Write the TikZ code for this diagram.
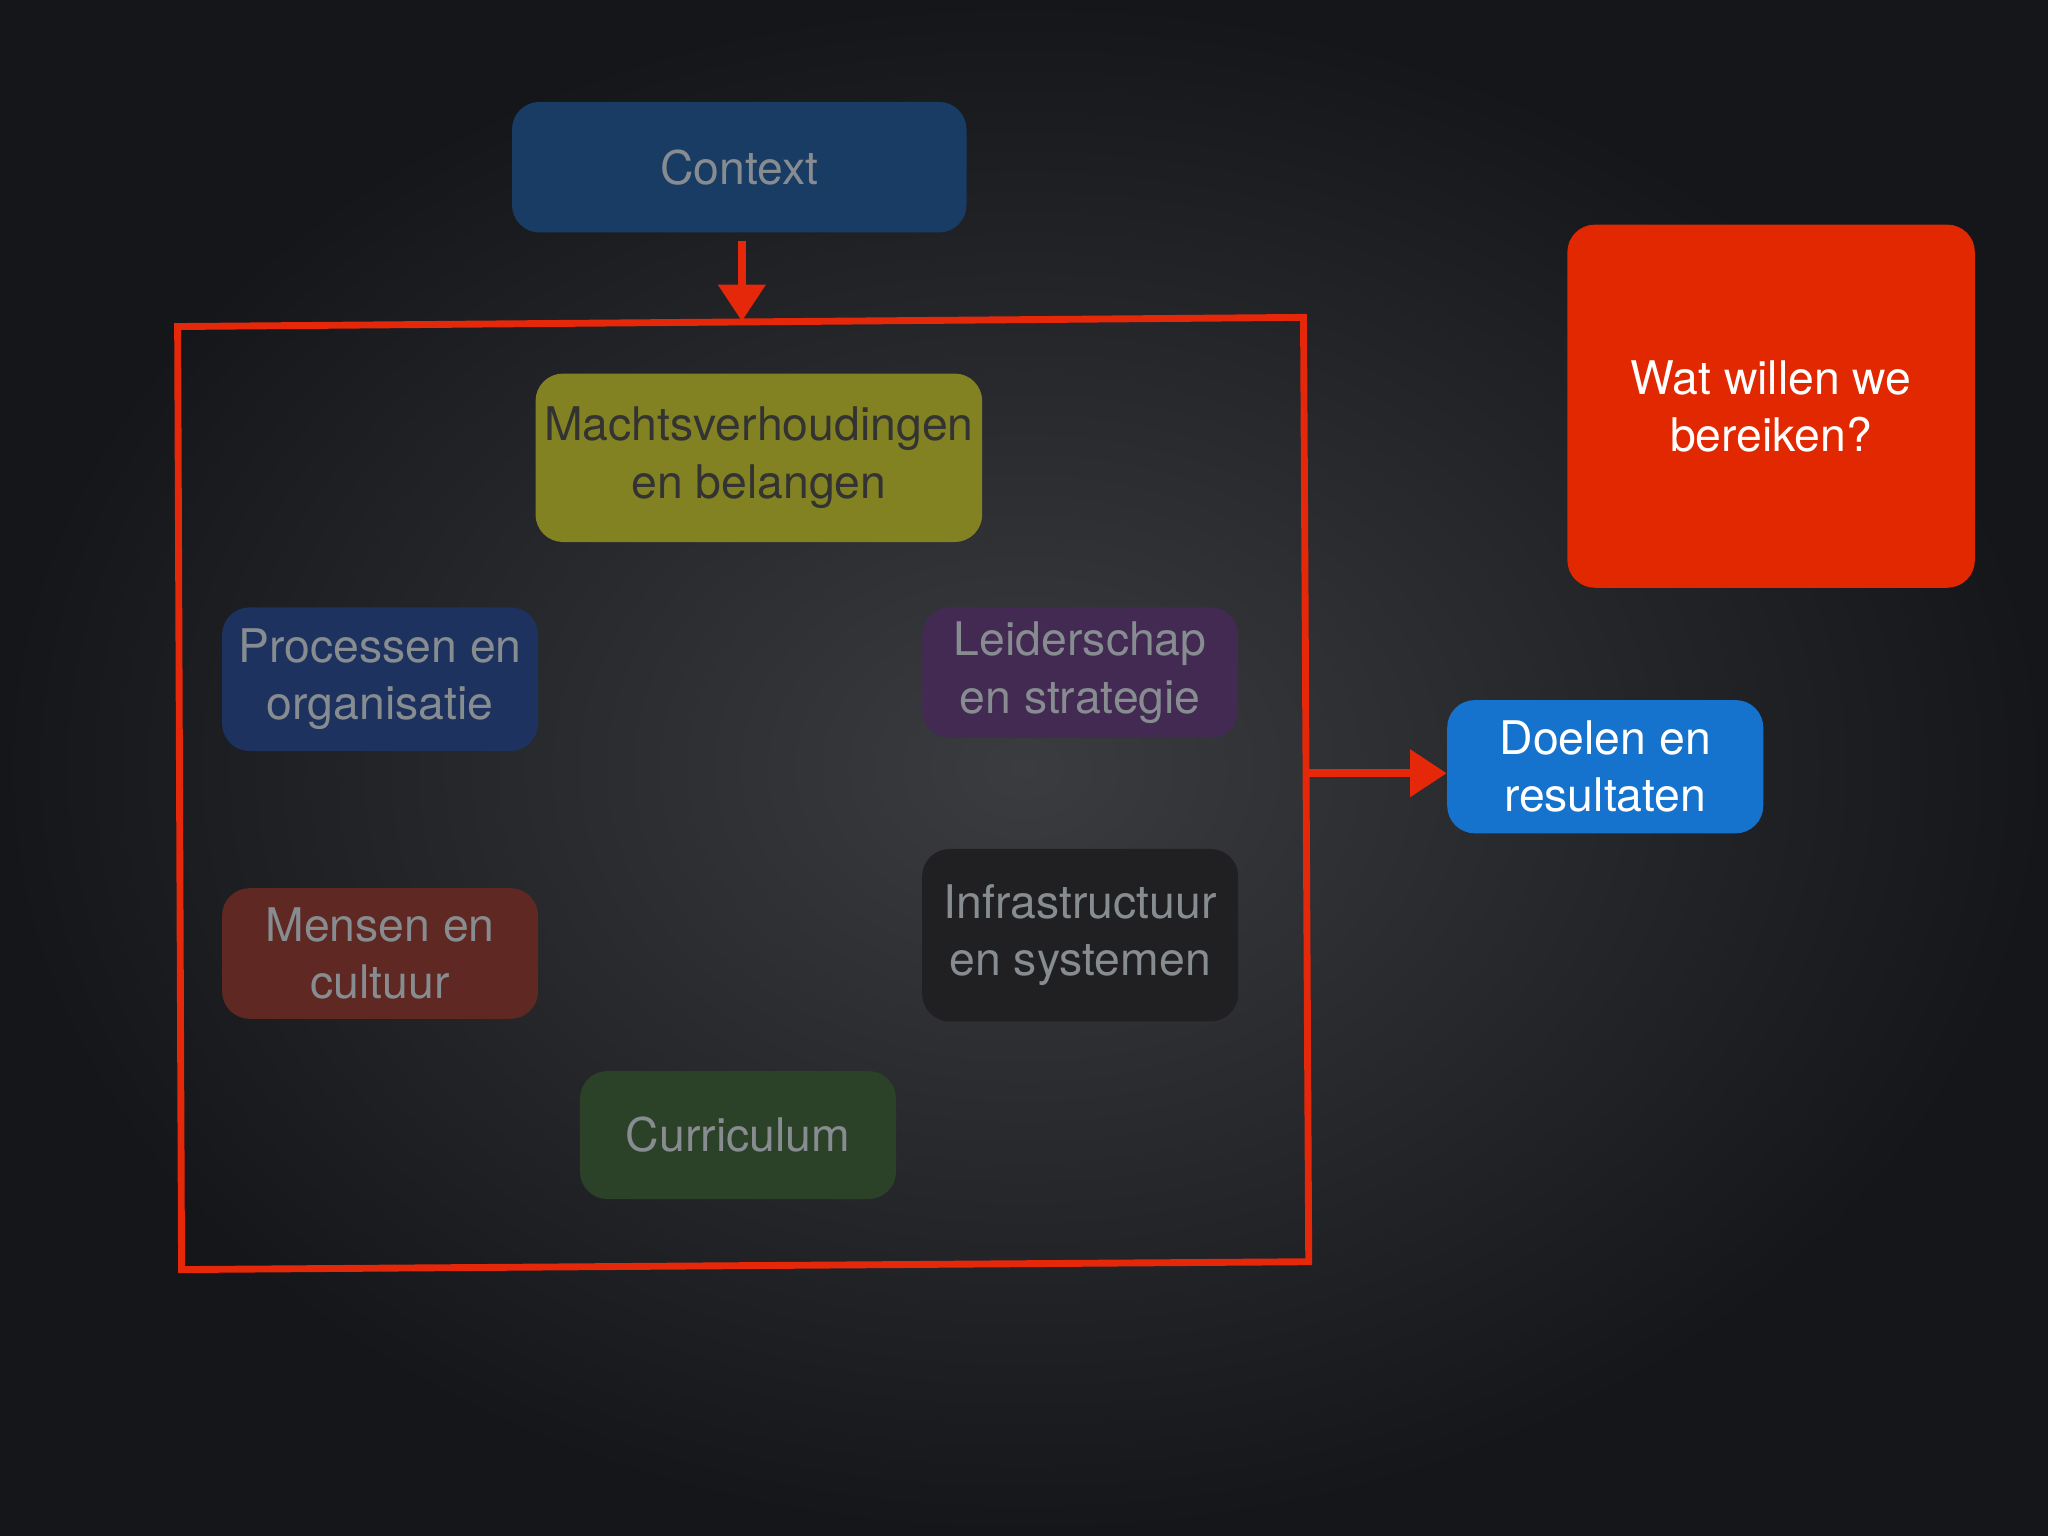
\documentclass[tikz,border=0pt]{standalone}
\usepackage{fontspec}
\setmainfont{TeX Gyre Heros}
\usetikzlibrary{arrows.meta}
\begin{document}
\begin{tikzpicture}[x=0.02cm,y=-0.02cm,
  box/.style={rounded corners=12pt,align=center,inner sep=0pt,font=\fontsize{20.2}{25}\selectfont},
  redarrow/.style={draw={rgb,255:red,230;green,40;blue,10},line width=3.5pt,-{Triangle[length=16pt,width=20pt]}}]
\definecolor{bgc}{RGB}{58,60,64}
\definecolor{bgd}{RGB}{20,22,25}
\useasboundingbox (0,0) rectangle (1568,1176);
\shade[inner color=bgc,outer color=bgd] (0,0) rectangle (1568,1176);
\newcommand{\bx}[6]{\node[box,fill=#5,text=#6,minimum width={(#3-#1)*0.02cm},minimum height={(#4-#2)*0.02cm}] at ({(#1+#3)/2},{(#2+#4)/2})}
\definecolor{ctx}{RGB}{24,60,100}
\definecolor{mac}{RGB}{130,130,34}
\definecolor{pro}{RGB}{30,50,95}
\definecolor{lei}{RGB}{66,42,82}
\definecolor{men}{RGB}{95,40,34}
\definecolor{inf}{RGB}{32,32,34}
\definecolor{cur}{RGB}{44,66,40}
\definecolor{wat}{RGB}{225,40,0}
\definecolor{doe}{RGB}{22,115,205}
\definecolor{dimtxt}{RGB}{135,140,145}
\definecolor{rl}{RGB}{230,40,10}
\bx{392}{78}{740}{178}{ctx}{dimtxt} (context) {Context};
\bx{410}{286}{752}{415}{mac}{black!80} (macht) {Machtsverhoudingen\\en belangen};
\bx{170}{465}{412}{575}{pro}{dimtxt} (proc) {Processen en\\organisatie};
\bx{706}{465}{948}{565}{lei}{dimtxt} (leid) {Leiderschap\\en strategie};
\bx{170}{680}{412}{780}{men}{dimtxt} (mens) {Mensen en\\cultuur};
\bx{706}{650}{948}{782}{inf}{dimtxt} (infra) {Infrastructuur\\en systemen};
\bx{444}{820}{686}{918}{cur}{dimtxt} (curr) {Curriculum};
\bx{1200}{172}{1512}{450}{wat}{white} (wat) {Wat willen we\\bereiken?};
\bx{1108}{536}{1350}{638}{doe}{white} (doel) {Doelen en\\resultaten};
\draw[rl,line width=3pt] (136,250) -- (998,243) -- (1002,966) -- (139,972) -- cycle;
\coordinate (top) at (568,246);
\coordinate (right) at (1000,592);
\draw[redarrow] (context.south -| top) ++(0,6) -- (top);
\draw[redarrow] (right) -- (right -| doel.west);
\end{tikzpicture}
\end{document}
